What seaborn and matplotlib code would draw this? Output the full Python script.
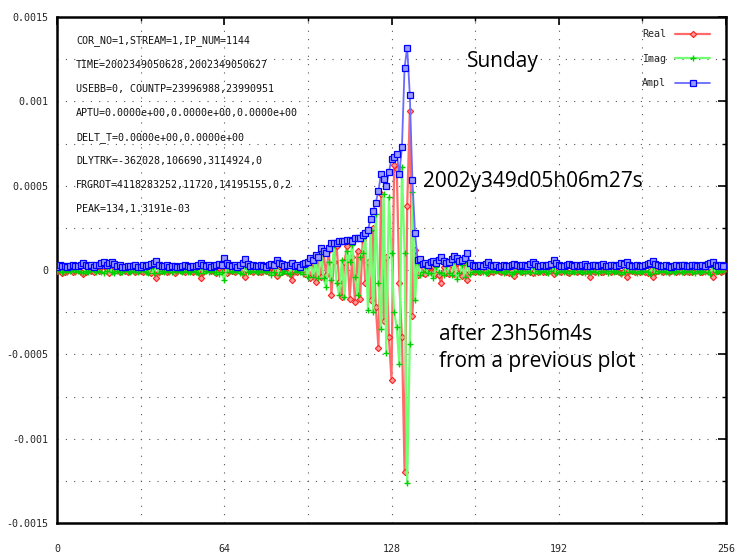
import numpy as np
import pandas as pd
import matplotlib
matplotlib.use("Agg")
import matplotlib.pyplot as plt
from matplotlib.ticker import MultipleLocator, FixedLocator
import seaborn as sns

# Fringe amplitude, real and imaginary parts per lag bin, in units of 1e-5
ampl_e5 = [
    2.0, 2.8, 2.2, 2.6, 1.8, 2.4, 2.9, 2.1, 2.3, 3.0, 4.2, 3.1, 2.2, 2.7, 2.0, 2.9,
    3.2, 4.1, 4.8, 3.0, 4.4, 5.0, 3.3, 2.1, 2.8, 2.0, 1.9, 2.6, 2.1, 2.3, 2.9, 2.0,
    1.8, 2.7, 2.2, 3.0, 3.4, 4.1, 5.3, 3.2, 2.1, 2.4, 2.8, 1.9, 2.2, 2.6, 2.0, 1.8,
    2.1, 2.8, 2.3, 1.9, 2.6, 2.2, 3.1, 4.4, 3.0, 2.2, 2.9, 2.0, 2.4, 2.7, 3.6, 3.0,
    7.2, 4.3, 3.0, 2.1, 2.7, 2.0, 3.2, 3.9, 6.3, 3.4, 2.2, 2.9, 2.1, 2.4, 3.0, 2.2,
    2.0, 2.9, 3.8, 3.1, 6.0, 4.2, 3.3, 2.4, 3.1, 2.9, 4.4, 2.3, 2.8, 2.0, 3.6, 4.2,
    5, 7, 6, 9, 8, 13, 11, 10, 13, 16, 16, 16, 17, 17, 17, 18,
    18, 17, 19, 19, 19, 21, 22, 24, 30, 35, 40, 47, 57, 54, 50, 58,
    66, 67, 69, 57, 73, 120, 131.91, 104, 53.3, 22, 6.0, 6.8, 3.5, 4.0, 3.2, 4.6,
    5.2, 4.0, 5.8, 8.0, 5.1, 4.2, 5.0, 6.3, 8.3, 7.0, 5.4, 6.1, 7.2, 9.9, 4.4, 3.2,
    2.6, 2.2, 3.0, 2.4, 3.3, 5.0, 3.1, 2.2, 2.8, 2.0, 2.5, 2.9, 2.1, 2.6, 3.2, 3.6,
    2.8, 2.2, 2.7, 3.1, 2.4, 3.3, 5.0, 3.4, 2.6, 2.2, 3.0, 2.4, 3.2, 3.8, 5.7, 4.1,
    3.0, 2.6, 2.3, 2.9, 3.5, 2.8, 2.2, 3.1, 2.5, 2.9, 3.4, 2.6, 2.3, 3.0, 2.8, 2.2,
    2.7, 3.3, 2.5, 2.1, 2.9, 3.1, 2.4, 3.2, 4.0, 3.5, 5.0, 3.2, 2.4, 2.2, 2.9, 2.6,
    2.1, 2.8, 3.4, 4.0, 5.3, 3.8, 2.9, 2.4, 2.2, 2.9, 2.6, 2.0, 2.5, 3.0, 2.3, 2.7,
    3.2, 2.6, 2.2, 2.9, 3.1, 2.4, 2.6, 3.0, 2.2, 3.3, 3.9, 5.0, 3.2, 2.5, 2.9, 2.4,
]

real_e5 = [
    -0.3, -0.8, -2.0, -1.2, -0.5, 0.4, -1.0, -0.6, 0.3, -1.4, -2.2, -0.9, 0.2, -0.7, -1.1, 0.5,
    -0.4, 1.8, 2.5, -0.6, -1.5, 3.0, -0.8, -0.2, -1.0, 0.3, -0.6, -1.3, -0.4, 0.6, -1.1, -0.3,
    -0.5, -1.4, 0.2, -0.9, -1.8, 1.6, -4.7, -1.0, -0.4, 0.3, -1.2, -0.6, -0.2, -1.5, -0.3, 0.4,
    -0.7, -1.3, 0.5, -0.4, -1.2, -0.6, -0.9, -4.7, -1.3, -0.2, 0.6, -0.8, -0.4, -1.5, 1.2, -0.7,
    2.5, -1.9, -0.6, -0.3, -1.1, 0.4, -0.8, -1.6, -4.0, 1.2, -0.5, -1.2, 0.3, -0.9, -1.4, -0.2,
    -0.5, -1.1, 1.9, -0.8, -3.6, 2.2, -1.4, -0.3, -1.0, -2.1, -6.0, -0.6, -1.3, -0.2, 2.1, -2.5,
    3, -5, 4, -7, 6, -4, 10, -3, 12, -15, 5, 14, -7, -16, 5, 14,
    -17, 8, -19, 11, -17, 18, -8, 5, -18, 25, -22, -46, 45, -30, 8, -40,
    -65, 62, 60, -8, -40, -120, 38, 94, -27, 12, -3, 4.0, -1.5, -2.4, 1.8, -1.2,
    2.6, -2.5, -3.0, -7.9, 2.0, -1.6, -2.2, 3.1, -2.6, 4.0, -1.8, -3.3, 5.0, -6.2, -1.3, -0.6,
    -1.0, -0.4, -1.2, 0.3, -0.8, -1.5, -0.5, -1.1, 0.2, -0.7, -1.3, -0.3, -0.9, -1.6, -0.4, -3.6,
    -0.8, -0.3, -1.2, -0.6, 0.4, -1.0, -1.8, -0.5, -1.1, -0.2, -0.9, -1.4, -0.3, -0.8, -2.2, -1.0,
    -0.4, -1.2, -0.2, -0.9, -1.5, -0.6, -0.3, -1.1, -0.7, -1.3, -0.4, -0.8, -4.0, -0.5, -1.0, -0.2,
    -0.9, -1.4, -0.5, -0.2, -1.1, -0.7, -0.3, -1.2, -1.7, -0.6, -4.0, -0.8, -0.4, -1.0, -0.6, -1.3,
    -0.3, -0.9, -1.5, -0.7, -4.0, -1.1, -0.5, -0.2, -1.0, -0.6, -1.2, -0.4, -0.8, -1.3, -0.3, -0.7,
    -1.1, -0.5, -0.9, -1.4, -0.6, -0.2, -1.0, -1.3, -0.4, -0.8, -1.2, -4.0, -0.7, -0.3, -1.0, -0.6,
]

imag_e5 = [
    -0.8, -0.2, -1.1, -0.4, -1.3, -0.6, 0.2, -1.0, -0.5, -0.9, -1.6, -0.3, -1.2, -0.7, 0.1, -1.0,
    -0.6, -1.4, -2.0, -0.8, 1.5, -1.2, -1.9, -0.4, -0.9, -1.1, -0.3, -0.8, -1.2, -0.5, -0.9, -1.4,
    -0.2, -0.7, -1.3, -1.6, 1.2, -2.0, 2.4, -1.5, -0.6, -1.1, -0.4, -0.9, -1.2, -0.3, -1.0, -0.8,
    -1.2, -0.5, -0.9, -1.4, -0.3, -1.0, -1.8, 1.5, -1.6, -0.7, -1.2, -0.4, -0.9, -1.1, -2.6, -1.2,
    -6.0, 2.4, -1.3, -0.8, -1.2, -0.5, -1.9, -2.6, 2.5, -1.4, -0.6, -1.0, -0.4, -1.2, -0.8, -1.1,
    -0.6, -1.3, -2.8, -1.1, 2.8, -3.0, -1.2, -0.8, -1.5, -2.4, 2.0, -1.1, -0.5, -1.2, -2.5, 2.4,
    -4, 5, -4, 6, -5, 12, -5, -10, 5, -6, 15, -8, -15, 6, -16, 11,
    5, 15, -4, -15, 8, 10, 20, -24, 24, -25, 33, -8, -35, 45, -49, 43,
    10, -25, -34, -56, 61, 10, -126.4, -44, 46, -18, 5, -3.2, -1.2, 1.6, -2.0, -1.8,
    -4.5, 2.0, -1.4, -2.0, -3.2, 2.3, -1.8, -2.8, 5.2, -5.5, -2.0, 3.2, -4.0, 4.5, -2.2, -1.0,
    -0.6, -1.2, -0.4, -1.3, -2.0, -1.0, -0.5, -1.4, -0.8, -0.3, -1.1, -1.8, -0.6, -1.0, -2.2, -0.9,
    -0.5, -1.3, -0.8, -1.6, -0.6, -1.0, 2.0, -1.8, -0.7, -1.2, -0.3, -1.0, -1.5, -0.6, 1.8, -1.7,
    -0.9, -0.5, -1.3, -0.8, -1.9, -0.4, -1.0, -1.4, -0.6, -1.1, -2.0, -0.7, -1.2, -0.3, -1.0, -1.5,
    -0.5, -1.2, -0.8, -1.6, -0.4, -1.1, -0.7, -1.4, -2.6, -0.9, 1.5, -1.3, -0.6, -1.0, -1.5, -0.5,
    -1.2, -0.7, -1.1, -2.2, 2.0, -1.6, -0.8, -1.3, -0.5, -1.0, -1.6, -0.7, -1.2, -0.4, -1.1, -0.9,
    -0.6, -1.3, -0.8, -1.1, -1.9, -0.5, -1.2, -0.7, -1.4, -0.9, -2.4, 1.8, -1.3, -0.6, -1.0, -0.8,
]

header_lines = [
    "COR_NO=1,STREAM=1,IP_NUM=1144",
    "TIME=2002349050628,2002349050627",
    "USEBB=0, COUNTP=23996988,23990951",
    "APTU=0.0000e+00,0.0000e+00,0.0000e+00",
    "DELT_T=0.0000e+00,0.0000e+00",
    "DLYTRK=-362028,106690,3114924,0",
    "FRGROT=4118283252,11720,14195155,0,2",
    "PEAK=134,1.3191e-03",
]

x_ticks = [0, 64, 128, 192, 256]
x_tick_labels = ["0", "64", "128", "192", "256"]
y_ticks = [-0.0015, -0.001, -0.0005, 0, 0.0005, 0.001, 0.0015]
y_tick_labels = ["-0.0015", "-0.001", "-0.0005", "0", "0.0005", "0.001", "0.0015"]

assert len(ampl_e5) == len(real_e5) == len(imag_e5) == 256

scale = 1e-5
df = pd.DataFrame({
    "lag": np.arange(256),
    "Real": np.array(real_e5) * scale,
    "Imag": np.array(imag_e5) * scale,
    "Ampl": np.array(ampl_e5) * scale,
})

sns.set_style("white")
plt.rcParams["font.family"] = ["DejaVu Sans Mono", "DejaVu Sans"]

W, H = 736, 554
fig = plt.figure(figsize=(W / 100, H / 100), dpi=100)
L, R, T, B = 57, 726, 17, 523
ax = fig.add_axes([L / W, 1 - B / H, (R - L) / W, (B - T) / H])

mono = 7.2
sns.lineplot(data=df, x="lag", y="Real", ax=ax, label="Real", color="#ff6a6a",
             lw=1.6, marker="D", markersize=3.2, markerfacecolor="#ff9a9a",
             markeredgecolor="#ff2020", markeredgewidth=0.8, zorder=3)
sns.lineplot(data=df, x="lag", y="Imag", ax=ax, label="Imag", color="#72ff72",
             lw=1.6, marker="+", markersize=5, markeredgecolor="#00d000",
             markeredgewidth=1.0, zorder=4)
sns.lineplot(data=df, x="lag", y="Ampl", ax=ax, label="Ampl", color="#6a6aff",
             lw=1.3, marker="s", markersize=4.8, markerfacecolor="#9a9aff",
             markeredgecolor="#0000ff", markeredgewidth=0.9, zorder=5)

ax.set_xlim(0, 256)
ax.set_ylim(-0.0015, 0.0015)
ax.set_xlabel("")
ax.set_ylabel("")

ax.xaxis.set_major_locator(FixedLocator(x_ticks))
ax.set_xticklabels(x_tick_labels)
ax.xaxis.set_minor_locator(MultipleLocator(32))
ax.yaxis.set_major_locator(FixedLocator(y_ticks))
ax.set_yticklabels(y_tick_labels)
ax.yaxis.set_minor_locator(MultipleLocator(0.00025))

ax.tick_params(which="both", direction="in", top=True, right=True,
               color="black", labelsize=mono)
ax.tick_params(which="major", length=6, width=1.2)
ax.tick_params(which="minor", length=3, width=1.0)
ax.tick_params(axis="x", which="major", pad=15)
ax.tick_params(axis="y", which="major", pad=6)

ax.grid(which="both", color="#555555", lw=0.8, linestyle=(0, (1, 6.5)))
for s in ax.spines.values():
    s.set_color("black")
    s.set_linewidth(1.8)

# Correlator header block
for i, line in enumerate(header_lines):
    fig.text(76 / W, 1 - (41 + 24.05 * i) / H, line, fontsize=mono,
             va="center", ha="left", color="#111111")

# Session notes
note = dict(family=["Open Sans", "DejaVu Sans"], fontsize=15, color="black",
            ha="left", va="center")
fig.text(467 / W, 1 - 61 / H, "Sunday", **note)
fig.text(423 / W, 1 - 182 / H, "2002y349d05h06m27s", **note)
fig.text(439 / W, 1 - 335 / H, "after 23h56m4s", **note)
fig.text(439 / W, 1 - 362 / H, "from a previous plot", **note)

leg = ax.legend(loc="upper right", bbox_to_anchor=(710 / W, 1 - 29 / H),
                bbox_transform=fig.transFigure, frameon=False, markerfirst=False,
                fontsize=mono, handlelength=3.5, handletextpad=0.9,
                labelspacing=1.45, borderpad=0, borderaxespad=0, numpoints=1)

fig.savefig("out.png", dpi=100)
